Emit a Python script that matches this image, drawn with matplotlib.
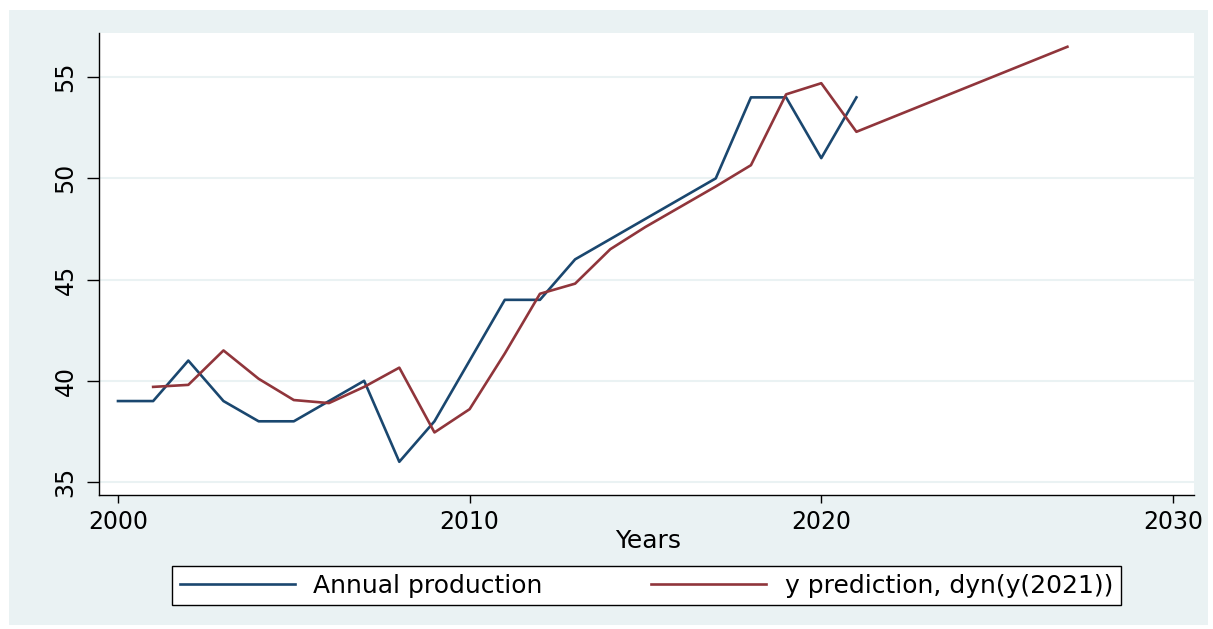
import matplotlib
matplotlib.use("Agg")
from matplotlib import pyplot as plt
from matplotlib.patches import Rectangle

plt.rcParams['font.family'] = ['DejaVu Sans']

years = list(range(2000, 2022))
production = [39, 39, 41, 39, 38, 38, 39, 40, 36, 38, 41,
              44, 44, 46, 47, 48, 49, 50, 54, 54, 51, 54]

pred_years = list(range(2001, 2028))
prediction = [39.7, 39.8, 41.5, 40.1, 39.05, 38.9, 39.7, 40.65, 37.45, 38.6,
              41.35, 44.3, 44.8, 46.5, 47.6, 48.6, 49.6, 50.65, 54.15, 54.7,
              52.3, 53.0, 53.7, 54.4, 55.1, 55.8, 56.5]

x_ticks = [2000, 2010, 2020, 2030]
y_ticks = [35, 40, 45, 50, 55]

W, H = 1213, 629
fig = plt.figure(figsize=(W / 100, H / 100), dpi=100)
fig.patch.set_facecolor("white")
bg = Rectangle((9 / W, 4 / H), 1199 / W, 615 / H, transform=fig.transFigure,
               facecolor="#eaf2f3", edgecolor="none", zorder=-10)
fig.patches.append(bg)

ax = fig.add_axes([99 / W, (H - 495) / H, (1194 - 99) / W, (495 - 33) / H])
ax.set_facecolor("white")

l1, = ax.plot(years, production, color="#1a476f", lw=1.9, label="Annual production")
l2, = ax.plot(pred_years, prediction, color="#90353b", lw=1.9,
              label="y prediction, dyn(y(2021))")

ax.set_xlim(1999.46, 2030.6)
ax.set_ylim(34.36, 57.18)
ax.set_xticks(x_ticks)
ax.set_yticks(y_ticks)
ax.grid(axis="y", color="#eaf2f3", lw=1.5)
ax.set_axisbelow(True)
for s in ["top", "right"]:
    ax.spines[s].set_visible(False)
for s in ["left", "bottom"]:
    ax.spines[s].set_color("black")
    ax.spines[s].set_linewidth(1.0)
ax.tick_params(direction="out", width=1, labelsize=17, colors="black")
ax.tick_params(axis="x", length=6, pad=5)
ax.tick_params(axis="y", length=8.5, pad=7)
for lab in ax.get_yticklabels():
    lab.set_rotation(90)
    lab.set_va("center")

ax.set_xlabel("Years", fontsize=18)
ax.xaxis.set_label_coords(0.501, -0.0996)
ax.xaxis.label.set_va("center")

leg = fig.legend(handles=[l1, l2], loc="center", ncol=2, mode="expand",
                 bbox_to_anchor=(172 / W, (H - 605) / H, (1121 - 172) / W, 39 / H),
                 borderaxespad=0, fontsize=18, handlelength=4.6, handletextpad=0.75,
                 fancybox=False, framealpha=1, edgecolor="black",
                 borderpad=0.3)
leg.get_frame().set_linewidth(1.0)

fig.savefig("out.png", dpi=100)
